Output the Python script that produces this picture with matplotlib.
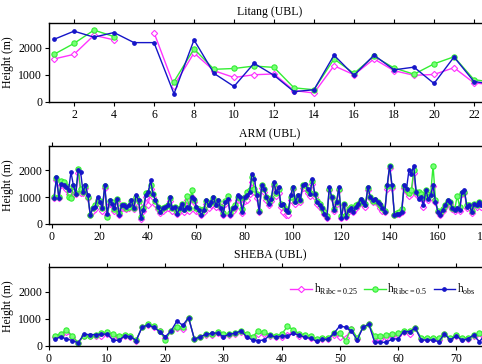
import numpy as np
import matplotlib
matplotlib.use("Agg")
import matplotlib.pyplot as plt

plt.rcParams['font.family'] = ['Liberation Serif', 'DejaVu Serif']
plt.rcParams['mathtext.fontset'] = 'custom'
plt.rcParams['mathtext.rm'] = 'Liberation Serif'
plt.rcParams['font.size'] = 8.5

nan = np.nan

# Litang (UBL)
litang_x = list(range(1, 24))
litang_r025 = [1580, 1750, 2450, 2280, nan, 2550, 600, 1800, 1150, 900, 1000, 1030,
               420, 330, 1330, 1000, 1580, 1150, 980, 1010, 1260, 700, 630]
litang_r05 = [1750, 2150, 2640, 2400, nan, nan, 750, 1950, 1200, 1230, 1320, 1270,
              520, 450, 1580, 1050, 1680, 1250, 1020, 1400, 1660, 820, 720]
litang_obs = [2300, 2600, 2380, 2550, 2180, 2180, 300, 2280, 1050, 570, 1420, 980,
              380, 450, 1720, 980, 1720, 1180, 1280, 680, 1650, 750, 650]

# ARM (UBL)
arm_x = list(range(1, 179))
arm_obs = [970, 1740, 970, 1500, 1440, 1370, 1250, 1930, 1440, 1130,
           1990, 1930, 1190, 1440, 1070, 330, 580, 640, 1010, 820,
           580, 1440, 390, 880, 760, 580, 940, 330, 700, 720,
           640, 700, 880, 580, 1070, 880, 210, 520, 1070, 1190,
           1620, 1130, 880, 640, 450, 580, 640, 700, 1010, 580,
           640, 390, 580, 760, 520, 640, 580, 1010, 940, 640,
           520, 330, 520, 880, 700, 820, 1010, 700, 880, 580,
           330, 820, 940, 330, 580, 640, 1070, 1010, 450, 1010,
           1070, 1190, 1870, 1680, 1070, 450, 1440, 1310, 1010, 760,
           940, 1560, 1190, 1370, 700, 760, 520, 450, 1070, 1370,
           820, 1070, 880, 1440, 1500, 1310, 1130, 1680, 1130, 820,
           700, 580, 390, 210, 1370, 1010, 520, 820, 1370, 210,
           760, 270, 520, 580, 450, 640, 760, 940, 820, 700,
           1370, 1010, 880, 940, 820, 760, 580, 450, 1440, 2170,
           1440, 330, 390, 390, 450, 1440, 1310, 1990, 1870, 2170,
           1190, 940, 1010, 700, 1250, 940, 1070, 1440, 820, 450,
           330, 520, 700, 880, 820, 580, 520, 580, 520, 1190,
           1250, 640, 700, 450, 760, 700, 820, 700]
arm_r05 = [1000, 1700, 1000, 1600, 1550, 1400, 1000, 950, 1400, 1150,
           2050, 1300, 1200, 1400, 1000, 350, 600, 700, 900, 850,
           600, 1400, 250, 850, 800, 550, 920, 400, 700, 700,
           600, 650, 850, 600, 1000, 850, 250, 600, 1150, 1150,
           1450, 1100, 850, 650, 500, 600, 650, 700, 950, 600,
           650, 450, 600, 750, 550, 1050, 600, 1250, 900, 600,
           550, 400, 550, 850, 750, 800, 950, 750, 850, 650,
           400, 850, 1050, 400, 600, 700, 1000, 950, 550, 1000,
           1200, 1250, 1750, 1300, 1100, 500, 1450, 1300, 1000, 800,
           950, 1500, 1150, 1300, 750, 700, 550, 500, 1000, 1350,
           850, 1050, 900, 1450, 1450, 1250, 1150, 1600, 1100, 850,
           750, 600, 450, 300, 1300, 1000, 550, 800, 1300, 300,
           750, 350, 550, 650, 600, 700, 750, 900, 800, 750,
           1350, 1000, 850, 900, 800, 700, 600, 500, 1400, 2150,
           1400, 350, 400, 450, 550, 1400, 1250, 1150, 1250, 2000,
           1200, 1200, 1100, 1000, 1250, 1000, 1100, 2170, 900, 500,
           400, 550, 700, 850, 800, 600, 550, 1050, 650, 1150,
           1200, 700, 700, 500, 750, 700, 800, 750]
arm_r025 = [950, 1650, 950, 1450, 1400, 1300, 1100, 1000, 1300, 1100,
            1900, 1150, 1150, 1350, 950, 330, 500, 550, 850, 750,
            500, 1350, 350, 750, 700, 500, 850, 350, 600, 600,
            550, 600, 750, 550, 950, 700, 200, 500, 1000, 700,
            1300, 1000, 750, 550, 400, 500, 550, 600, 850, 500,
            550, 380, 500, 650, 450, 900, 500, 1000, 800, 500,
            450, 330, 450, 750, 600, 700, 850, 650, 750, 550,
            330, 750, 900, 330, 500, 600, 900, 900, 400, 850,
            900, 1100, 1550, 1200, 950, 450, 1350, 1200, 900, 700,
            850, 1400, 1050, 1150, 650, 450, 350, 330, 900, 1300,
            750, 950, 800, 1350, 1350, 1150, 1050, 1500, 1000, 750,
            650, 550, 380, 210, 1250, 950, 500, 750, 1250, 210,
            700, 270, 500, 550, 450, 600, 700, 850, 750, 650,
            1250, 950, 800, 850, 750, 600, 500, 450, 1300, 2100,
            1350, 330, 380, 390, 450, 1350, 1200, 1050, 1100, 1900,
            1100, 1000, 950, 650, 1150, 900, 1000, 1400, 800, 450,
            330, 500, 650, 800, 750, 550, 500, 550, 500, 1100,
            1150, 600, 650, 400, 700, 650, 750, 650]

# SHEBA (UBL)
sheba_x = list(range(1, 76))
sheba_obs = [245, 340, 260, 200, 120, 430, 420, 420, 430, 440,
             210, 210, 370, 340, 200, 690, 770, 690, 530, 340,
             560, 920, 760, 1040, 250, 340, 430, 460, 480, 340,
             440, 460, 560, 330, 220, 200, 220, 400, 320, 370,
             370, 465, 400, 320, 280, 180, 245, 245, 470, 735,
             690, 550, 220, 690, 800, 135, 135, 135, 260, 260,
             530, 530, 650, 220, 220, 220, 160, 440, 220, 370,
             220, 260, 400, 160, 420]
sheba_r05 = [380, 450, 570, 380, 120, 380, 380, 420, 470, 500,
             430, 380, 400, 350, 230, 690, 810, 720, 560, 230,
             560, 700, 700, 1040, 260, 340, 430, 430, 520, 430,
             430, 470, 560, 450, 340, 560, 500, 420, 370, 430,
             720, 600, 450, 400, 350, 260, 300, 300, 470, 470,
             200, 640, 300, 690, 800, 350, 350, 420, 450, 470,
             550, 560, 650, 300, 300, 300, 300, 440, 300, 400,
             300, 300, 400, 480, 500]
sheba_r025 = [330, 400, 520, 320, 100, 380, 350, 380, 380, 430,
              350, 310, 360, 330, 200, 690, 770, 700, 540, 280,
              560, 650, 620, 1040, 250, 330, 400, 400, 470, 380,
              420, 440, 520, 380, 300, 450, 430, 380, 320, 330,
              400, 500, 380, 350, 300, 220, 260, 260, 420, 340,
              300, 620, 250, 690, 800, 200, 250, 330, 380, 400,
              520, 450, 650, 250, 250, 260, 220, 440, 250, 370,
              260, 270, 360, 300, 420]

panels = [
    ("Litang (UBL)", litang_x, litang_r025, litang_r05, litang_obs,
     (0.75, 22.85), range(2, 24, 2)),
    ("ARM (UBL)", arm_x, arm_r025, arm_r05, arm_obs,
     (-1.1, 182), range(0, 200, 20)),
    ("SHEBA (UBL)", sheba_x, sheba_r025, sheba_r05, sheba_obs,
     (0, 76), range(0, 80, 10)),
]

magenta = '#ff33ff'
green = '#33ee33'
blue = '#1515c8'

fig = plt.figure(figsize=(4.82, 3.64), dpi=100)
W, H = 482.0, 364.0
tops = [23, 146, 267]
heights = [79, 78, 79]

for i, (title, x, r025, r05, obs, xlim, xticks) in enumerate(panels):
    top = tops[i]
    h = heights[i]
    ax = fig.add_axes([49 / W, 1 - (top + h) / H, 442 / W, h / H])
    ax.plot(x, r025, color=magenta, lw=1.0, marker='D', ms=3.2,
            mfc='white', mec=magenta, mew=0.8, label=r'h$_{\mathrm{Ribc=0.25}}$')
    ax.plot(x, r05, color=green, lw=1.0, marker='o', ms=3.8,
            mfc='#77ff77', mec=green, mew=0.8, label=r'h$_{\mathrm{Ribc=0.5}}$')
    ax.plot(x, obs, color=blue, lw=1.0, marker='o', ms=2.4,
            mfc=blue, mec=blue, label=r'h$_{\mathrm{obs}}$')
    ax.set_xlim(*xlim)
    ax.set_ylim(0, 2900)
    ax.set_xticks(list(xticks))
    ax.set_yticks([0, 1000, 2000])
    ax.tick_params(direction='out', top=True, length=3, width=0.8, pad=2)
    for s in ax.spines.values():
        s.set_linewidth(1.0)
    ax.set_ylabel('Height (m)', labelpad=3)
    ax.set_title(title, x=(270 - 49) / 442, pad=6, fontsize=8.5)
    if i == 2:
        ax.legend(loc='center left', bbox_to_anchor=(0.545, 0.72), ncol=3,
                  frameon=False, handlelength=1.9, handletextpad=0.15,
                  columnspacing=0.5, borderpad=0, borderaxespad=0,
                  fontsize=8.3)

fig.savefig('out.png', dpi=100)
